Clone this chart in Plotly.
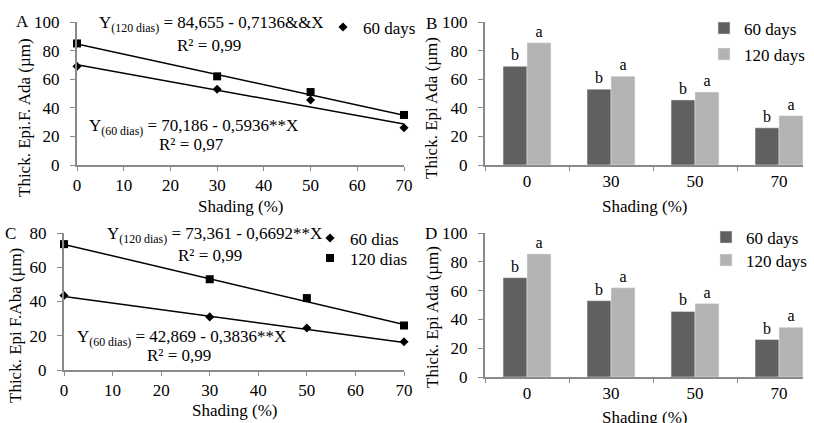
import plotly.graph_objects as go

W, H = 814, 423

# ---- data ----
shading = [0, 30, 50, 70]
shading_cat = ["0", "30", "50", "70"]

# Panel A (adaxial epidermis, scatter)
a_60 = [69, 53, 45.5, 26]
a_120 = [85, 62, 51, 35]
a_fit_60 = (70.186, -0.5936)
a_fit_120 = (84.655, -0.7136)

# Panel C (abaxial epidermis, scatter)
c_60 = [43.5, 31, 24.5, 16.5]
c_120 = [73.5, 53, 42, 26]
c_fit_60 = (42.869, -0.3836)
c_fit_120 = (73.361, -0.6692)

# Panels B and D (bars)
b_60 = [69, 53, 45.5, 26]
b_120 = [85.5, 62, 51, 34.5]
d_60 = [69, 53, 45.5, 26]
d_120 = [85.5, 62, 51, 34.5]
letters_60 = ["b", "b", "b", "b"]
letters_120 = ["a", "a", "a", "a"]

fit_x = [0, 70]

FONT = "Liberation Serif, Times New Roman, serif"
AX = "#8a8a8a"
DARK = "#606060"
LIGHT = "#b3b3b3"


def px(x):
    return x / W


def py(y):
    return 1 - y / H


fig = go.Figure()


def line_pts(fit):
    return [fit[0] + fit[1] * x for x in fit_x]


barfont = dict(family=FONT, size=16, color="black")

# Panel A
fig.add_trace(go.Scatter(x=fit_x, y=line_pts(a_fit_120), mode="lines", line=dict(color="black", width=1.5),
                         showlegend=False, xaxis="x", yaxis="y", hoverinfo="skip"))
fig.add_trace(go.Scatter(x=fit_x, y=line_pts(a_fit_60), mode="lines", line=dict(color="black", width=1.5),
                         showlegend=False, xaxis="x", yaxis="y", hoverinfo="skip"))
fig.add_trace(go.Scatter(x=shading, y=a_120, mode="markers", marker=dict(symbol="square", size=8, color="black"),
                         name="120 days", showlegend=False, xaxis="x", yaxis="y", cliponaxis=False))
fig.add_trace(go.Scatter(x=shading, y=a_60, mode="markers", marker=dict(symbol="diamond", size=7, color="black"),
                         name="60 days", legend="legend", xaxis="x", yaxis="y", cliponaxis=False))

# Panel B
fig.add_trace(go.Bar(x=shading_cat, y=b_60, name="60 days", marker=dict(color=DARK), text=letters_60,
                     textposition="outside", textfont=barfont, cliponaxis=False,
                     legend="legend2", xaxis="x2", yaxis="y2"))
fig.add_trace(go.Bar(x=shading_cat, y=b_120, name="120 days", marker=dict(color=LIGHT), text=letters_120,
                     textposition="outside", textfont=barfont, cliponaxis=False,
                     legend="legend3", xaxis="x2", yaxis="y2"))

# Panel C
fig.add_trace(go.Scatter(x=fit_x, y=line_pts(c_fit_120), mode="lines", line=dict(color="black", width=1.5),
                         showlegend=False, xaxis="x3", yaxis="y3", hoverinfo="skip"))
fig.add_trace(go.Scatter(x=fit_x, y=line_pts(c_fit_60), mode="lines", line=dict(color="black", width=1.5),
                         showlegend=False, xaxis="x3", yaxis="y3", hoverinfo="skip"))
fig.add_trace(go.Scatter(x=shading, y=c_60, mode="markers", marker=dict(symbol="diamond", size=7, color="black"),
                         name="60 dias", legend="legend4", xaxis="x3", yaxis="y3", cliponaxis=False))
fig.add_trace(go.Scatter(x=shading, y=c_120, mode="markers", marker=dict(symbol="square", size=8, color="black"),
                         name="120 dias", legend="legend5", xaxis="x3", yaxis="y3", cliponaxis=False))

# Panel D
fig.add_trace(go.Bar(x=shading_cat, y=d_60, name="60 days", marker=dict(color=DARK), text=letters_60,
                     textposition="outside", textfont=barfont, cliponaxis=False,
                     legend="legend6", xaxis="x4", yaxis="y4"))
fig.add_trace(go.Bar(x=shading_cat, y=d_120, name="120 days", marker=dict(color=LIGHT), text=letters_120,
                     textposition="outside", textfont=barfont, cliponaxis=False,
                     legend="legend7", xaxis="x4", yaxis="y4"))

tickfont = dict(family=FONT, size=17, color="black")
common_x = dict(showline=True, linecolor=AX, linewidth=2, ticks="outside", tickcolor=AX, ticklen=4,
                tickwidth=1, showgrid=False, zeroline=False, tickfont=tickfont, fixedrange=True,
                automargin=False)
common_y = dict(showline=True, linecolor=AX, linewidth=2, ticks="outside", tickcolor=AX, ticklen=5,
                tickwidth=1, showgrid=False, zeroline=False, tickfont=tickfont, fixedrange=True,
                automargin=False, ticklabelstandoff=7)

# pixel geometry
A_x0, A_x1, A_ytop, A_ybot = 77, 404, 22, 165
B_x0, B_x1 = 485, 803
C_x0, C_x1, C_ytop, C_ybot = 64, 404, 233, 370
D_ytop, D_ybot = 233, 377

bar_range_end = -0.5 + (B_x1 - B_x0) / 84.0

legfont = dict(family=FONT, size=17, color="black")


def leg(x, y):
    return dict(x=px(x), y=py(y), xanchor="left", yanchor="top", bgcolor="rgba(0,0,0,0)",
                font=legfont, itemwidth=30, tracegroupgap=0)


fig.update_layout(
    width=W, height=H, margin=dict(l=0, r=0, t=0, b=0, autoexpand=False),
    paper_bgcolor="white", plot_bgcolor="white",
    font=dict(family=FONT, size=17, color="black"),
    barmode="group", bargap=0.43, bargroupgap=0,
    xaxis=dict(common_x, domain=[px(A_x0), px(A_x1)], range=[0, 70], dtick=10, anchor="y"),
    yaxis=dict(common_y, domain=[py(A_ybot), py(A_ytop)], range=[0, 100], dtick=20, anchor="x"),
    xaxis2=dict(common_x, domain=[px(B_x0), px(B_x1)], range=[-0.5, bar_range_end], type="category",
                tickson="boundaries", anchor="y2"),
    yaxis2=dict(common_y, domain=[py(A_ybot), py(A_ytop)], range=[0, 100], dtick=20, anchor="x2"),
    xaxis3=dict(common_x, domain=[px(C_x0), px(C_x1)], range=[0, 70], dtick=10, anchor="y3"),
    yaxis3=dict(common_y, domain=[py(C_ybot), py(C_ytop)], range=[0, 80], dtick=20, anchor="x3"),
    xaxis4=dict(common_x, domain=[px(B_x0), px(B_x1)], range=[-0.5, bar_range_end], type="category",
                tickson="boundaries", anchor="y4"),
    yaxis4=dict(common_y, domain=[py(D_ybot), py(D_ytop)], range=[0, 100], dtick=20, anchor="x4"),
    legend=leg(323, 9.5),
    legend2=leg(704, 10.5),
    legend3=leg(704, 36.5),
    legend4=leg(310, 220.5),
    legend5=leg(310, 240.5),
    legend6=leg(706, 219.5),
    legend7=leg(706, 242.5),
)

ann = []


def text(x, y, s, size=17, xanchor="left", angle=0):
    ann.append(dict(x=px(x), y=py(y), xref="paper", yref="paper", text=s, showarrow=False,
                    xanchor=xanchor, yanchor="middle", textangle=angle,
                    font=dict(family=FONT, size=size, color="black")))


# panel letters
text(22, 22, "A", xanchor="center")
text(431, 24, "B", xanchor="center")
text(10, 233, "C", xanchor="center")
text(431, 233, "D", xanchor="center")

# equations
text(97, 24, "Y<sub>(120 dias)</sub> = 84,655 - 0,7136&amp;&amp;X")
text(175, 45, "R² = 0,99")
text(87, 127, "Y<sub>(60 dias)</sub> = 70,186 - 0,5936**X")
text(157, 145, "R² = 0,97")
text(105, 235, "Y<sub>(120 dias)</sub> = 73,361 - 0,6692**X")
text(176, 255, "R² = 0,99")
text(75, 338, "Y<sub>(60 dias)</sub> = 42,869 - 0,3836**X")
text(145, 355, "R² = 0,99")

# axis titles
text(25, 118, "Thick. Epi.F. Ada (µm)", xanchor="center", angle=-90)
text(432, 108, "Thick. Epi Ada (µm)", xanchor="center", angle=-90)
text(15, 326, "Thick. Epi F.Aba (µm)", xanchor="center", angle=-90)
text(432, 317, "Thick. Epi Ada (µm)", xanchor="center", angle=-90)

text(240, 206, "Shading (%)", xanchor="center")
text(644, 206, "Shading (%)", xanchor="center")
text(234, 410, "Shading (%)", xanchor="center")
text(644, 417, "Shading (%)", xanchor="center")

fig.update_layout(annotations=ann)

fig.write_html("out.html", post_script="document.body.style.margin='0';",
               config={"displayModeBar": False})
